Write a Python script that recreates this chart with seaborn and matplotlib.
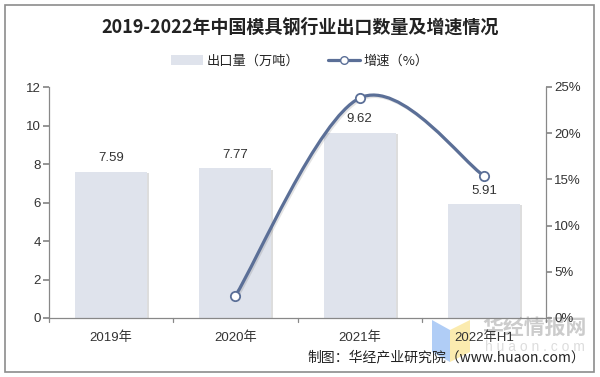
import matplotlib
matplotlib.use("Agg")
import matplotlib.pyplot as plt
import matplotlib.patheffects as pe
from matplotlib.path import Path
from matplotlib.patches import PathPatch, Rectangle, Polygon
from matplotlib.lines import Line2D
from matplotlib.ticker import FuncFormatter
import pandas as pd
import seaborn as sns

years = ["2019年", "2020年", "2021年", "2022年H1"]
export_vol = [7.59, 7.77, 9.62, 5.91]          # 出口量（万吨）
growth_years = ["2020年", "2021年", "2022年H1"]
growth_pct = [2.4, 23.8, 15.4]                 # 增速（%）

BAR_C = "#dfe3ec"
LINE_C = "#5b6f97"
TXT_C = "#333333"

sns.set_theme(style="white")
plt.rcParams["font.family"] = ["Liberation Sans", "Noto Sans CJK SC", "DejaVu Sans"]

df = pd.DataFrame({"year": years, "vol": export_vol})

fig = plt.figure(figsize=(6, 3.77), dpi=100)
ax = fig.add_axes([49 / 600, 1 - 318 / 377, 497 / 600, 231 / 377])
ax.patch.set_alpha(0)

sns.barplot(data=df, x="year", y="vol", color=BAR_C, width=0.58,
            saturation=1, linewidth=0, edgecolor="none", ax=ax)
for p in ax.patches:
    p.set_path_effects([pe.SimplePatchShadow(offset=(1.5, -0.8), alpha=0.18, shadow_rgbFace="#444444"),
                        pe.Normal()])
for i, v in enumerate(export_vol):
    ax.text(i, v + 0.4, f"{v:.2f}", ha="center", va="bottom", fontsize=9.5, color=TXT_C)

ax.set_ylim(0, 12)
ax.set_yticks(range(0, 13, 2))
ax.set_xlim(-0.5, 3.5)
ax.set_xlabel("")
ax.set_ylabel("")
for s in ["top", "right"]:
    ax.spines[s].set_visible(False)
for s in ["left", "bottom"]:
    ax.spines[s].set_color("#888888")
    ax.spines[s].set_linewidth(0.9)
ax.tick_params(axis="y", left=True, length=4, color="#888888", labelsize=9.5,
               labelcolor=TXT_C, pad=2)
ax.tick_params(axis="x", bottom=False, labelsize=9.5, labelcolor=TXT_C, pad=4)
# category boundary ticks
for b in [-0.5, 0.5, 1.5, 2.5, 3.5]:
    ax.plot([b, b], [0, -0.2], color="#888888", lw=0.9, clip_on=False)

ax2 = ax.twinx()
ax2.set_ylim(0, 25)
ax2.set_yticks(range(0, 26, 5))
ax2.yaxis.set_major_formatter(FuncFormatter(lambda v, _: f"{v:.0f}%"))
for s in ["top", "left", "bottom"]:
    ax2.spines[s].set_visible(False)
ax2.spines["right"].set_color("#888888")
ax2.spines["right"].set_linewidth(0.9)
ax2.tick_params(axis="y", right=True, length=4, color="#888888", labelsize=9.5,
                labelcolor=TXT_C, pad=2)
ax2.grid(False)
ax.grid(False)

# smoothed line through growth points (Excel-style bezier)
xs = [years.index(y) for y in growth_years]
pts = list(zip(xs, growth_pct))
verts, codes = [pts[0]], [Path.MOVETO]
n = len(pts)
for i in range(n - 1):
    p0 = pts[i - 1] if i > 0 else pts[i]
    p1, p2 = pts[i], pts[i + 1]
    p3 = pts[i + 2] if i + 2 < n else pts[i + 1]
    c1 = (p1[0] + (p2[0] - p0[0]) / 6, p1[1] + (p2[1] - p0[1]) / 6)
    c2 = (p2[0] - (p3[0] - p1[0]) / 6, p2[1] - (p3[1] - p1[1]) / 6)
    verts += [c1, c2, p2]
    codes += [Path.CURVE4] * 3
ax2.add_patch(PathPatch(Path(verts, codes), facecolor="none", edgecolor=LINE_C, lw=2.3,
                        path_effects=[pe.SimpleLineShadow(offset=(1, -1), alpha=0.12),
                                      pe.Normal()]))
sns.scatterplot(x=xs, y=growth_pct, ax=ax2, s=45, color="white", edgecolor=LINE_C,
                linewidth=1.3, zorder=5, legend=False)

# title & legend
fig.text(0.5, 1 - 27 / 377, "2019-2022年中国模具钢行业出口数量及增速情况", ha="center", va="center",
         fontsize=13, fontweight="bold", color="#222222",
         family=["Noto Sans CJK SC", "DejaVu Sans"])
handles = [Rectangle((0, 0), 1, 1, facecolor=BAR_C, edgecolor="none"),
           Line2D([], [], color=LINE_C, lw=2.3, marker="o", markersize=5.5,
                  markerfacecolor="white", markeredgecolor=LINE_C)]
fig.legend(handles, ["出口量（万吨）", "增速（%）"], loc="center", ncol=2,
           bbox_to_anchor=(0.5, 1 - 61 / 377), frameon=False,
           handlelength=2.4, handletextpad=0.3, columnspacing=2.2,
           prop={"family": ["Noto Sans CJK SC", "DejaVu Sans"], "size": 9.5})

# watermark (behind the axes and their labels)
fig.patches.append(Polygon([[432 / 600, 1 - 320 / 377], [450 / 600, 1 - 330 / 377],
                            [450 / 600, 1 - 362 / 377], [432 / 600, 1 - 352 / 377]],
                           closed=True, transform=fig.transFigure, facecolor="#a8c8f5",
                           edgecolor="none", alpha=0.9, zorder=-2))
fig.patches.append(Polygon([[450 / 600, 1 - 330 / 377], [470 / 600, 1 - 320 / 377],
                            [470 / 600, 1 - 352 / 377], [450 / 600, 1 - 362 / 377]],
                           closed=True, transform=fig.transFigure, facecolor="#fbe9a6",
                           edgecolor="none", alpha=0.9, zorder=-2))
fig.text(535 / 600, 1 - 327 / 377, "华经情报网", ha="center", va="center", fontsize=15,
         fontweight="bold", color="#cccccc", family=["Noto Sans CJK SC"], zorder=-2)
fig.text(535 / 600, 1 - 347 / 377, "h u a o n . c o m", ha="center", va="center",
         fontsize=10, color="#dddddd", zorder=-2)

fig.text(585 / 600, 1 - 357 / 377, "制图：华经产业研究院（www.huaon.com）", ha="right",
         va="center", fontsize=10, color="#222222",
         family=["Noto Sans CJK SC", "DejaVu Sans"])

fig.patches.append(Rectangle((5 / 600, 5 / 377), 589 / 600, 367 / 377, transform=fig.transFigure,
                             facecolor="none", edgecolor="#8c8c8c", lw=1.2))

fig.savefig("out.png", dpi=100)
